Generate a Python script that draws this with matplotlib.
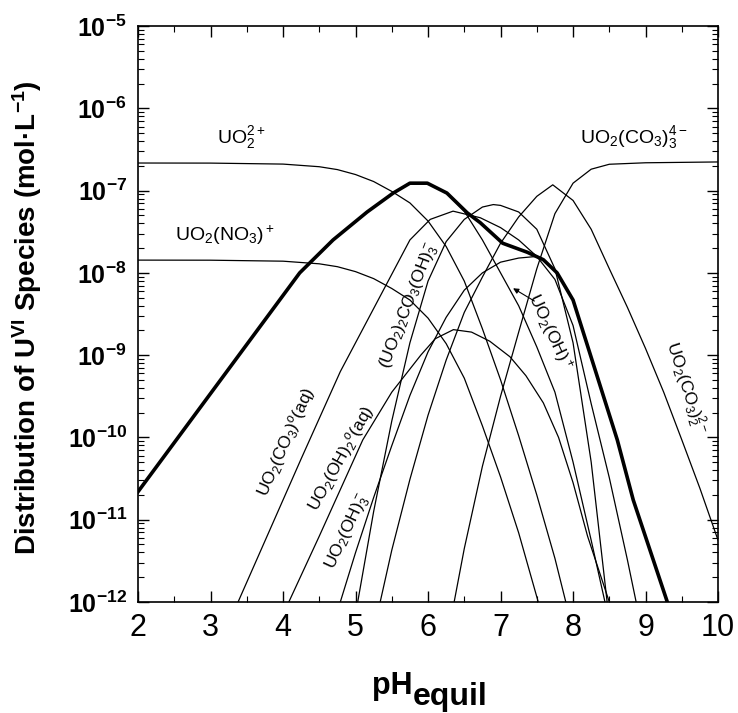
import numpy as np
import matplotlib.pyplot as plt
from matplotlib.ticker import LogLocator, MultipleLocator, NullFormatter

plt.rcParams['font.family'] = 'Liberation Sans'
plt.rcParams['mathtext.fontset'] = 'custom'
plt.rcParams['mathtext.rm'] = 'Liberation Sans'
plt.rcParams['mathtext.it'] = 'Liberation Sans:italic'
plt.rcParams['mathtext.bf'] = 'Liberation Sans:bold'

# ---- species distribution, log10 of concentration (mol/L) vs pH ----
ph_uo2 = [2.0, 3.0, 4.0, 4.5, 4.75, 5.0, 5.25, 5.5, 5.75, 6.0, 6.25, 6.5, 6.75, 7.0, 7.25, 7.5, 7.75, 7.9]
lg_uo2 = [-6.665, -6.666, -6.678, -6.71, -6.745, -6.805, -6.89, -7.01, -7.15, -7.37, -7.68, -8.10, -8.68, -9.30, -9.98, -10.70, -11.47, -12.0]

ph_no3 = [2.0, 3.0, 4.0, 4.5, 4.75, 5.0, 5.25, 5.5, 5.75, 6.0, 6.25, 6.5, 6.75, 7.0, 7.25, 7.52]
lg_no3 = [-7.845, -7.846, -7.858, -7.89, -7.925, -7.985, -8.07, -8.19, -8.33, -8.55, -8.86, -9.28, -9.86, -10.48, -11.16, -12.0]

# heavy curve
ph_bold = [2.0, 4.23, 4.69, 5.16, 5.52, 5.75, 5.99, 6.26, 6.54, 6.72, 7.03, 7.37, 7.59, 7.78, 8.0, 8.61, 8.83, 9.3]
lg_bold = [-10.66, -8.0, -7.6, -7.26, -7.03, -6.91, -6.91, -7.03, -7.27, -7.39, -7.64, -7.75, -7.84, -8.0, -8.33, -10.03, -10.76, -12.0]

ph_oh = [5.99, 6.26, 6.5, 6.75, 7.0, 7.25, 7.5, 7.75, 8.0, 8.25, 8.44]
lg_oh = [-6.91, -7.03, -7.25, -7.6, -8.0, -8.4, -8.9, -9.45, -10.3, -11.25, -12.0]

ph_oh2 = [4.08, 4.5, 5.1, 5.5, 5.9, 6.1, 6.35, 6.6, 6.85, 7.13, 7.35, 7.59, 7.8, 8.0, 8.2, 8.5]
lg_oh2 = [-12.0, -11.2, -10.03, -9.45, -9.0, -8.8, -8.69, -8.72, -8.83, -9.02, -9.25, -9.58, -10.0, -10.55, -11.2, -12.0]

ph_oh3 = [4.79, 5.0, 5.25, 5.5, 5.75, 6.0, 6.25, 6.5, 6.75, 7.0, 7.25, 7.5, 7.59, 7.78, 8.0, 8.61, 8.83, 9.3]
lg_oh3 = [-12.0, -11.4, -10.73, -10.10, -9.49, -8.96, -8.54, -8.21, -8.0, -7.87, -7.82, -7.8, -7.84, -8.0, -8.33, -10.03, -10.76, -12.0]

ph_co3 = [3.38, 3.75, 4.25, 4.79, 5.3, 5.75, 6.03, 6.345, 6.72, 7.0, 7.25, 7.5, 7.75, 8.0, 8.25, 8.5, 8.75, 8.87]
lg_co3 = [-12.0, -11.26, -10.26, -9.2, -8.35, -7.6, -7.35, -7.25, -7.33, -7.45, -7.6, -7.8, -8.08, -8.64, -9.59, -10.49, -11.49, -12.0]

ph_co3_2 = [5.34, 5.5, 5.75, 6.0, 6.25, 6.5, 6.75, 7.0, 7.25, 7.5, 7.72, 8.0, 8.25, 8.5, 8.75, 9.0, 9.25, 9.5, 9.75, 10.0]
lg_co3_2 = [-12.0, -11.37, -10.51, -9.73, -9.06, -8.48, -8.05, -7.64, -7.32, -7.07, -6.93, -7.12, -7.47, -7.95, -8.42, -8.92, -9.45, -10.03, -10.62, -11.25]

ph_co3_3 = [6.36, 6.5, 6.75, 7.0, 7.25, 7.5, 7.75, 8.0, 8.25, 8.5, 9.0, 10.0]
lg_co3_3 = [-12.0, -11.35, -10.35, -9.5, -8.72, -7.95, -7.28, -6.91, -6.74, -6.68, -6.662, -6.652]

ph_dimer = [5.03, 5.25, 5.5, 5.75, 6.0, 6.25, 6.5, 6.75, 6.9, 7.0, 7.25, 7.5, 7.75, 8.0, 8.25, 8.47]
lg_dimer = [-12.0, -10.9, -9.8, -8.85, -8.1, -7.62, -7.35, -7.2, -7.17, -7.18, -7.26, -7.47, -7.95, -8.85, -10.3, -12.0]

thin = [(ph_uo2, lg_uo2), (ph_no3, lg_no3), (ph_oh, lg_oh), (ph_oh2, lg_oh2),
        (ph_oh3, lg_oh3), (ph_co3, lg_co3), (ph_co3_2, lg_co3_2),
        (ph_co3_3, lg_co3_3), (ph_dimer, lg_dimer)]

fig = plt.figure(figsize=(7.38, 7.13), dpi=100)
ax = fig.add_axes([0.187, 0.1557, 0.786, 0.8078])

for ph, lg in thin:
    ax.plot(ph, 10.0 ** np.array(lg), color='black', lw=0.9)
ax.plot(ph_bold, 10.0 ** np.array(lg_bold), color='black', lw=2.6)

ax.set_yscale('log')
ax.set_xlim(2, 10)
ax.set_ylim(1e-12, 1e-5)
ax.set_xticks(range(2, 11))
ax.xaxis.set_minor_locator(MultipleLocator(0.5))
ax.yaxis.set_minor_locator(LogLocator(base=10, subs=np.arange(2, 10), numticks=20))
ax.yaxis.set_minor_formatter(NullFormatter())
ax.set_yticks([10.0 ** k for k in range(-12, -4)])
ax.set_yticklabels([r'$\mathbf{10^{%d}}$' % k for k in range(-12, -4)], fontsize=18)
ax.set_xticklabels([str(k) for k in range(2, 11)], fontsize=22)
ax.tick_params(which='both', direction='in', top=True, right=True)
ax.tick_params(which='major', length=8, width=1)
ax.tick_params(which='minor', length=4, width=0.8)
ax.tick_params(axis='x', pad=8)
ax.tick_params(axis='y', pad=8)
for s in ax.spines.values():
    s.set_linewidth(1.2)

fig.text(27 / 738, 0.555, 'Distribution of U$^{\\mathbf{VI}}$ Species (mol·L$^{\\mathbf{-1}}$)',
         rotation=90, ha='center', va='center', fontsize=20, fontweight='bold')
fig.text(372 / 738, 1 - 694 / 713, 'pH', fontsize=22, fontweight='bold', ha='left', va='baseline')
fig.text(413 / 738, 1 - 705 / 713, 'equil', fontsize=23, fontweight='bold', ha='left', va='baseline')

# species labels
fs = 14
ax.text(3.09, 10 ** -6.35, r'UO$_2^{2+}$', fontsize=fs, ha='left', va='center')
ax.text(2.51, 10 ** -7.54, r'UO$_2$(NO$_3$)$^+$', fontsize=fs, ha='left', va='center')
ax.text(8.1, 10 ** -6.35, r'UO$_2$(CO$_3$)$_3^{4-}$', fontsize=fs, ha='left', va='center')
rot = dict(ha='center', va='center', rotation_mode='anchor', fontsize=12.5)
ax.text(4.05, 10 ** -10.05, r'UO$_2$(CO$_3$)$^o$(aq)', rotation=66, **rot)
ax.text(4.8, 10 ** -10.25, r'UO$_2$(OH)$_2$$^o$(aq)', rotation=61, **rot)
ax.text(4.9, 10 ** -11.15, r'UO$_2$(OH)$_3^-$', rotation=65, **rot)
ax.text(5.74, 10 ** -8.4, r'(UO$_2$)$_2$CO$_3$(OH)$_3^-$', rotation=69, **rot)
ax.text(7.68, 10 ** -8.72, r'UO$_2$(OH)$^+$', rotation=-65, **rot)
ax.text(9.55, 10 ** -9.4, r'UO$_2$(CO$_3$)$_2^{2-}$', rotation=-72, **rot)
ax.annotate('', xy=(7.14, 10 ** -8.17), xytext=(7.50, 10 ** -8.36),
            arrowprops=dict(arrowstyle='-|>', lw=0.8, color='black', mutation_scale=8))

fig.savefig('out.png', dpi=100)
